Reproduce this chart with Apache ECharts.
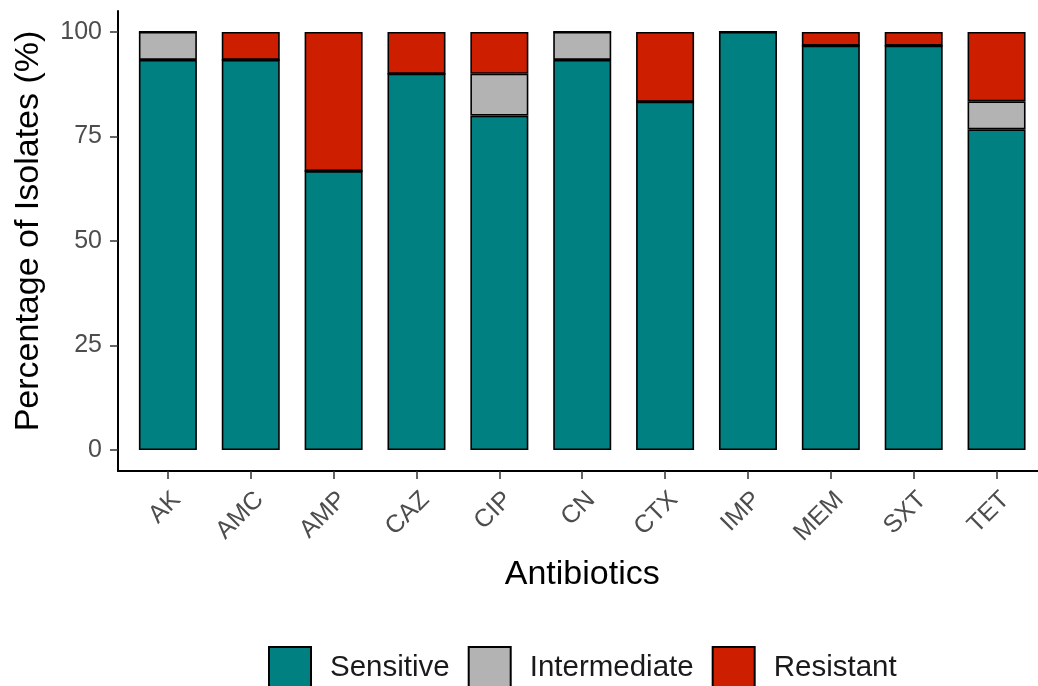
<!DOCTYPE html>
<html>
<head>
<meta charset="utf-8">
<script src="https://cdn.jsdelivr.net/npm/echarts@6/dist/echarts.min.js"></script>
<style>
  html, body { margin: 0; padding: 0; background: #fff; }
  #chart { width: 1038px; height: 686px; }
</style>
</head>
<body>
<div id="chart"></div>
<script>
// antibiotics on the x axis
const antibiotics = ['AK', 'AMC', 'AMP', 'CAZ', 'CIP', 'CN', 'CTX', 'IMP', 'MEM', 'SXT', 'TET']
// percentage of isolates per category
const sensitive = [93.3, 93.3, 66.7, 90, 80, 93.3, 83.3, 100, 96.7, 96.7, 76.7]
const intermediate = [6.7, 0, 0, 0, 10, 6.7, 0, 0, 0, 0, 6.7]
const resistant = [0, 6.7, 33.3, 10, 10, 0, 16.7, 0, 3.3, 3.3, 16.6]
const yTicks = [0, 25, 50, 75, 100]

const colors = {
  Sensitive: '#008080',
  Intermediate: '#b3b3b3',
  Resistant: '#cd1f00'
}

const font = 'Liberation Sans, Arial, sans-serif'

const chart = echarts.init(document.getElementById('chart'))

const makeSeries = (name, data) => ({
  name,
  type: 'bar',
  stack: 'total',
  xAxisIndex: 0,
  yAxisIndex: 0,
  barWidth: 58,
  data,
  itemStyle: {
    color: colors[name],
    borderColor: '#000',
    borderWidth: 1.6
  }
})

const option = {
  animation: false,
  textStyle: { fontFamily: font },
  legend: {
    data: ['Sensitive', 'Intermediate', 'Resistant'],
    icon: 'rect',
    left: 263,
    top: 641,
    itemWidth: 42,
    itemHeight: 42,
    itemGap: 18,
    textStyle: {
      fontFamily: font,
      fontSize: 29.5,
      color: '#1a1a1a',
      padding: [0, 0, 0, 14]
    }
  },
  grid: [
    // bars: category step matches the reference spacing
    { left: 126.45, width: 914.1, top: 11, bottom: 215 },
    // axis lines with the ggplot-style padding
    { left: 118, width: 931, top: 11, bottom: 215 }
  ],
  xAxis: [
    {
      type: 'category',
      gridIndex: 0,
      data: antibiotics,
      axisLine: { show: false, onZero: false },
      axisTick: {
        show: true,
        alignWithLabel: true,
        length: 8,
        lineStyle: { color: '#333', width: 1.5 }
      },
      axisLabel: {
        rotate: 45,
        margin: 16,
        verticalAlign: 'top',
        fontSize: 25,
        color: '#4d4d4d',
        fontFamily: font
      },
      name: 'Antibiotics',
      nameLocation: 'middle',
      nameGap: 87,
      nameTextStyle: { fontSize: 34, color: '#000', fontFamily: font }
    },
    {
      type: 'value',
      gridIndex: 1,
      min: 0.4,
      max: 11.6,
      axisLine: { show: true, onZero: false, lineStyle: { color: '#000', width: 2 } },
      axisTick: { show: false },
      axisLabel: { show: false },
      splitLine: { show: false }
    }
  ],
  yAxis: [
    {
      type: 'value',
      gridIndex: 0,
      min: -5,
      max: 105,
      axisLine: { show: false },
      axisTick: { show: false },
      axisLabel: { show: false },
      splitLine: { show: false }
    },
    {
      type: 'value',
      gridIndex: 1,
      min: -5,
      max: 105,
      axisLine: { show: true, onZero: false, lineStyle: { color: '#000', width: 2 } },
      axisTick: {
        show: true,
        length: 8,
        customValues: yTicks,
        lineStyle: { color: '#333', width: 1.5 }
      },
      axisLabel: {
        customValues: yTicks,
        margin: 16,
        fontSize: 25,
        color: '#4d4d4d',
        fontFamily: font
      },
      splitLine: { show: false },
      name: 'Percentage of Isolates (%)',
      nameLocation: 'middle',
      nameGap: 72,
      nameTextStyle: {
        fontSize: 34,
        color: '#000',
        fontFamily: font,
        padding: [0, 0, 0, 20]
      }
    }
  ],
  series: [
    makeSeries('Sensitive', sensitive),
    makeSeries('Intermediate', intermediate),
    makeSeries('Resistant', resistant)
  ]
}

chart.setOption(option)
</script>
</body>
</html>
